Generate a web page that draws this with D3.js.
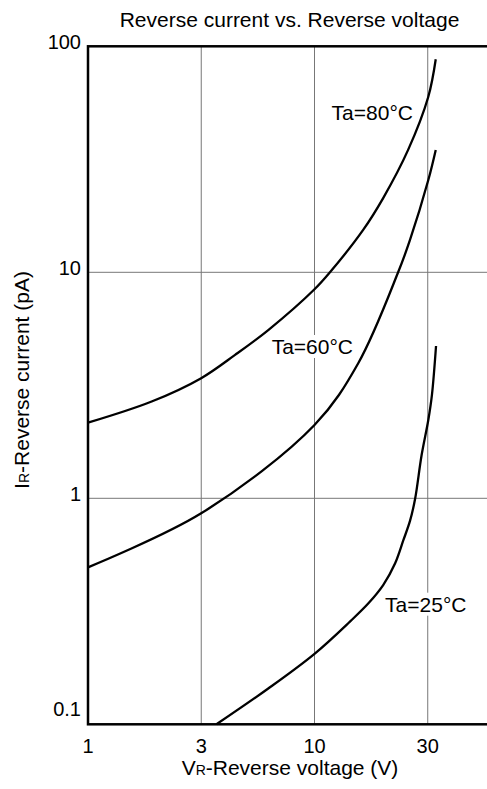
<!DOCTYPE html>
<html>
<head>
<meta charset="utf-8">
<script src="https://cdn.jsdelivr.net/npm/d3@7"></script>
<style>
    body { margin: 0; background: #fff; }
    svg { display: block; }
    text { font-family: "Liberation Sans", Arial, sans-serif; fill: #000; }
</style>
</head>
<body>
<div id="chart"></div>
<script>
// values (V in volts, I in pA)
const ta80Volts   = [1, 1.91, 3.16, 4.46, 6.25, 10, 11.7, 16.4, 20.1, 25.9, 31.8, 34.3];
const ta80Current = [2.16, 2.68, 3.40, 4.31, 5.55, 8.41, 10, 15.4, 21.3, 34.8, 59.8, 87.6];

const ta60Volts   = [1, 3.16, 10, 15.6, 23.4, 26.4, 31.8, 34.3];
const ta60Current = [0.495, 0.858, 2.11, 3.96, 10, 13.9, 25.6, 34.8];

const ta25Volts   = [3.69, 6.25, 10, 14.3, 17.3, 20.1, 22.7, 24.7, 26.4, 27.8, 29.7, 31.8, 33.0, 34.4];
const ta25Current = [0.1, 0.144, 0.205, 0.284, 0.343, 0.413, 0.516, 0.654, 0.794, 0.993, 1.55, 2.22, 2.87, 4.72];

const curveNames = ["Ta=80°C", "Ta=60°C", "Ta=25°C"];
const labelVolts = [11.9, 6.47, 20.5];
const labelCurrent = [47.2, 4.35, 0.315];

const xTickValues = [1, 3.162, 10, 31.62];
const xTickLabels = ["1", "3", "10", "30"];
const yTickValues = [100, 10, 1, 0.1];
const yTickLabels = ["100", "10", "1", "0.1"];

function init() {
    var w = 487;
    var h = 789;
    var margin = { top: 46.3, left: 88 };
    var plotH = 678;   // 0.1 .. 100 pA
    var plotW = 453;   // 1 .. 100 V, runs past the right edge

    var x = d3.scaleLog().domain([1, 100]).range([0, plotW]);
    var y = d3.scaleLog().domain([0.1, 100]).range([plotH, 0]);

    var svg = d3.select("#chart").append("svg")
        .attr("width", w)
        .attr("height", h);

    // title + axis titles
    svg.append("text")
        .attr("x", 289.5)
        .attr("y", 27)
        .attr("text-anchor", "middle")
        .style("font-size", "21px")
        .text("Reverse current vs. Reverse voltage");

    var xt = svg.append("text")
        .attr("x", 290)
        .attr("y", 775)
        .attr("text-anchor", "middle")
        .style("font-size", "21px");
    xt.append("tspan").text("V");
    xt.append("tspan").style("font-size", "14px").text("R");
    xt.append("tspan").text("-Reverse voltage (V)");

    var yt = svg.append("text")
        .attr("transform", "translate(29," + 380 + ") rotate(-90)")
        .attr("text-anchor", "middle")
        .style("font-size", "21px");
    yt.append("tspan").text("I");
    yt.append("tspan").style("font-size", "14px").text("R");
    yt.append("tspan").text("-Reverse current (pA)");

    var g = svg.append("g")
        .attr("transform", "translate(" + margin.left + "," + margin.top + ")");

    // grid
    g.append("g").selectAll("line")
        .data(xTickValues.slice(1))
        .enter().append("line")
        .attr("x1", d => x(d)).attr("x2", d => x(d))
        .attr("y1", 0).attr("y2", plotH)
        .attr("stroke", "#777").attr("stroke-width", 1);

    g.append("g").selectAll("line")
        .data([10, 1])
        .enter().append("line")
        .attr("x1", 0).attr("x2", plotW)
        .attr("y1", d => y(d)).attr("y2", d => y(d))
        .attr("stroke", "#777").attr("stroke-width", 1);

    // tick labels
    g.append("g").selectAll("text")
        .data(xTickValues)
        .enter().append("text")
        .attr("x", d => x(d))
        .attr("y", plotH + 29)
        .attr("text-anchor", "middle")
        .style("font-size", "20px")
        .text((d, i) => xTickLabels[i]);

    g.append("g").selectAll("text")
        .data(yTickValues)
        .enter().append("text")
        .attr("x", -7)
        .attr("y", d => Math.min(y(d) + 3, plotH - 8))
        .attr("text-anchor", "end")
        .style("font-size", "20px")
        .text((d, i) => yTickLabels[i]);

    var bgG = g.append("g");
    var curveG = g.append("g");
    var labelG = g.append("g");

    var line = d3.line()
        .x(d => x(d[0]))
        .y(d => y(d[1]))
        .curve(d3.curveCatmullRom.alpha(0.5));

    var series = [
        d3.zip(ta80Volts, ta80Current),
        d3.zip(ta60Volts, ta60Current),
        d3.zip(ta25Volts, ta25Current)
    ];

    curveG.selectAll("path")
        .data(series)
        .enter().append("path")
        .attr("d", line)
        .attr("fill", "none")
        .attr("stroke", "#000")
        .attr("stroke-width", 2.3);

    // curve labels with white box behind (hides grid)
    curveNames.forEach(function (name, i) {
        var t = labelG.append("text")
            .attr("x", x(labelVolts[i]))
            .attr("y", y(labelCurrent[i]))
            .style("font-size", "21px")
            .text(name);
        var b = t.node().getBBox();
        bgG.append("rect")
            .attr("x", b.x - 1).attr("y", b.y)
            .attr("width", b.width + 2).attr("height", b.height)
            .attr("fill", "#fff");
    });

    // frame
    g.append("rect")
        .attr("x", 0).attr("y", 0)
        .attr("width", plotW).attr("height", plotH)
        .attr("fill", "none")
        .attr("stroke", "#000")
        .attr("stroke-width", 2.5);
}
window.onload = init;
</script>
</body>
</html>
